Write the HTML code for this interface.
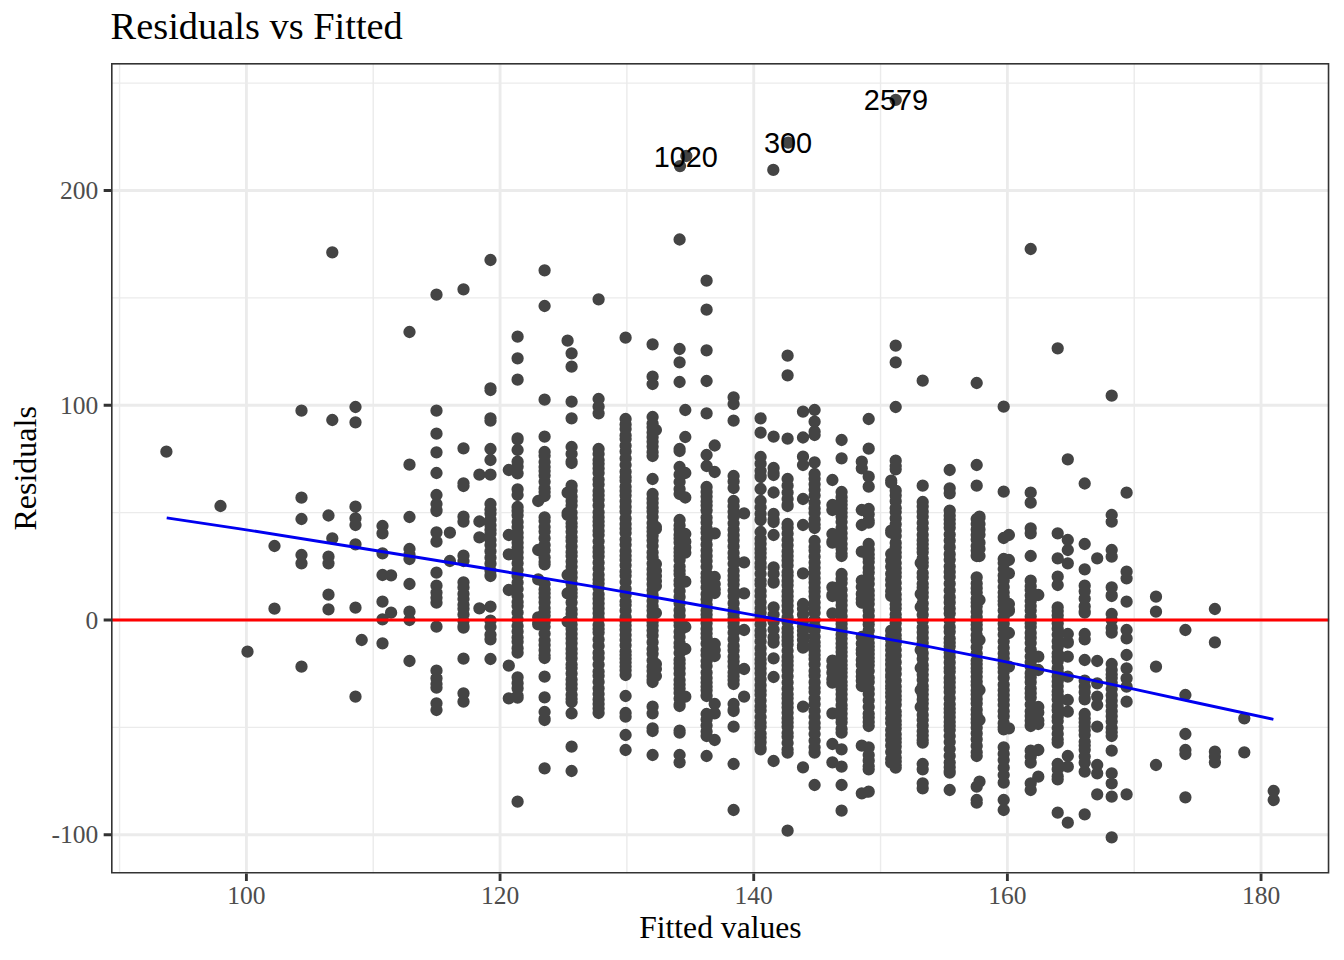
<!DOCTYPE html>
<html><head><meta charset="utf-8"><title>Residuals vs Fitted</title>
<style>html,body{margin:0;padding:0;background:#fff}svg{display:block}text{font-family:"Liberation Serif",serif}.s{font-family:"Liberation Sans",sans-serif}</style></head><body>
<svg width="1344" height="960" viewBox="0 0 1344 960">
<rect width="1344" height="960" fill="#fff"/>
<defs><clipPath id="c"><rect x="111.0" y="63.0" width="1218.33" height="810.6"/></clipPath></defs>
<g clip-path="url(#c)">
<path d="M119.57 63.0V873.6M373.23 63.0V873.6M626.89 63.0V873.6M880.55 63.0V873.6M1134.21 63.0V873.6M111.0 727.38H1329.33M111.0 512.62H1329.33M111.0 297.88H1329.33M111.0 83.12H1329.33" stroke="#ebebeb" stroke-width="1.42" fill="none"/>
<path d="M246.40 63.0V873.6M500.06 63.0V873.6M753.72 63.0V873.6M1007.38 63.0V873.6M1261.04 63.0V873.6M111.0 834.75H1329.33M111.0 620.00H1329.33M111.0 405.25H1329.33M111.0 190.50H1329.33" stroke="#ebebeb" stroke-width="2.85" fill="none"/>
<path d="M166.4 451.7h0M220.5 506.0h0M247.5 651.7h0M274.5 546.0h0M274.5 608.7h0M301.5 410.7h0M301.5 497.7h0M301.5 519.0h0M301.5 555.0h0M301.5 563.3h0M301.5 666.7h0M328.5 515.5h0M328.5 556.7h0M328.5 563.3h0M328.5 594.7h0M328.5 609.3h0M355.5 407.0h0M355.5 422.3h0M355.5 506.7h0M355.5 518.3h0M355.5 525.0h0M355.5 544.3h0M355.5 607.7h0M355.5 696.7h0M382.5 526.0h0M382.5 533.3h0M382.5 553.3h0M382.5 575.0h0M382.5 601.7h0M382.5 619.3h0M382.5 643.3h0M409.5 332.0h0M409.5 464.7h0M409.5 517.0h0M409.5 584.0h0M409.5 611.7h0M409.5 620.0h0M409.5 661.0h0M409.5 549.0h0M409.5 554.7h0M409.5 559.0h0M436.5 294.7h0M436.5 410.7h0M436.5 433.7h0M436.5 452.3h0M436.5 473.0h0M436.5 495.0h0M436.5 532.3h0M436.5 541.7h0M436.5 572.7h0M436.5 626.7h0M436.5 703.3h0M436.5 710.0h0M436.5 504.0h0M436.5 510.1h0M436.5 511.0h0M436.5 585.7h0M436.5 592.6h0M436.5 597.8h0M436.5 602.7h0M436.5 670.7h0M436.5 678.2h0M436.5 684.0h0M436.5 687.7h0M463.5 289.3h0M463.5 448.3h0M463.5 483.3h0M463.5 486.0h0M463.5 516.7h0M463.5 521.7h0M463.5 658.7h0M463.5 693.3h0M463.5 701.7h0M463.5 555.7h0M463.5 561.0h0M463.5 582.3h0M463.5 587.4h0M463.5 593.9h0M463.5 599.0h0M463.5 604.8h0M463.5 608.8h0M463.5 614.5h0M463.5 621.1h0M463.5 626.4h0M463.5 627.7h0M490.5 260.0h0M490.5 388.3h0M490.5 390.0h0M490.5 418.3h0M490.5 420.7h0M490.5 449.0h0M490.5 460.0h0M490.5 474.7h0M490.5 606.7h0M490.5 659.0h0M490.5 504.0h0M490.5 509.8h0M490.5 513.6h0M490.5 519.7h0M490.5 525.3h0M490.5 529.9h0M490.5 533.5h0M490.5 540.0h0M490.5 545.1h0M490.5 551.2h0M490.5 557.7h0M490.5 563.7h0M490.5 570.5h0M490.5 575.3h0M490.5 576.0h0M490.5 620.7h0M490.5 627.0h0M490.5 634.8h0M490.5 639.3h0M517.6 336.7h0M517.6 358.3h0M517.6 379.7h0M517.6 450.0h0M517.6 461.7h0M517.6 466.7h0M517.6 473.3h0M517.6 489.3h0M517.6 495.0h0M517.6 801.7h0M517.6 438.3h0M517.6 439.3h0M517.6 507.0h0M517.6 511.0h0M517.6 515.2h0M517.6 522.1h0M517.6 527.1h0M517.6 532.8h0M517.6 537.4h0M517.6 542.7h0M517.6 547.5h0M517.6 552.2h0M517.6 557.8h0M517.6 563.3h0M517.6 570.0h0M517.6 575.9h0M517.6 582.6h0M517.6 589.1h0M517.6 596.1h0M517.6 602.0h0M517.6 606.0h0M517.6 612.5h0M517.6 619.4h0M517.6 626.1h0M517.6 631.6h0M517.6 637.6h0M517.6 641.8h0M517.6 648.2h0M517.6 652.7h0M517.6 677.3h0M517.6 683.2h0M517.6 688.3h0M517.6 695.9h0M517.6 697.7h0M544.6 270.3h0M544.6 306.0h0M544.6 399.7h0M544.6 436.7h0M544.6 676.7h0M544.6 697.3h0M544.6 768.3h0M544.6 452.0h0M544.6 455.8h0M544.6 462.1h0M544.6 467.0h0M544.6 471.1h0M544.6 475.6h0M544.6 481.8h0M544.6 488.4h0M544.6 492.0h0M544.6 496.0h0M544.6 517.3h0M544.6 521.0h0M544.6 527.0h0M544.6 531.6h0M544.6 538.2h0M544.6 545.1h0M544.6 550.4h0M544.6 557.4h0M544.6 562.0h0M544.6 564.3h0M544.6 584.0h0M544.6 589.6h0M544.6 593.2h0M544.6 597.4h0M544.6 602.3h0M544.6 608.0h0M544.6 612.0h0M544.6 615.7h0M544.6 622.2h0M544.6 626.8h0M544.6 633.7h0M544.6 640.3h0M544.6 645.1h0M544.6 650.2h0M544.6 655.5h0M544.6 658.0h0M544.6 712.0h0M544.6 718.8h0M544.6 720.0h0M571.6 353.3h0M571.6 366.7h0M571.6 401.7h0M571.6 418.3h0M571.6 713.3h0M571.6 746.7h0M571.6 771.0h0M571.6 447.0h0M571.6 453.9h0M571.6 461.7h0M571.6 463.0h0M571.6 485.7h0M571.6 490.7h0M571.6 496.7h0M571.6 501.1h0M571.6 505.6h0M571.6 512.5h0M571.6 517.9h0M571.6 523.3h0M571.6 526.8h0M571.6 531.8h0M571.6 537.3h0M571.6 540.9h0M571.6 546.5h0M571.6 552.2h0M571.6 556.0h0M571.6 561.6h0M571.6 566.8h0M571.6 572.7h0M571.6 577.4h0M571.6 583.4h0M571.6 589.4h0M571.6 593.0h0M571.6 596.7h0M571.6 602.6h0M571.6 609.5h0M571.6 613.9h0M571.6 619.0h0M571.6 624.5h0M571.6 629.1h0M571.6 633.9h0M571.6 638.5h0M571.6 643.3h0M571.6 648.9h0M571.6 653.4h0M571.6 658.3h0M571.6 664.5h0M571.6 668.1h0M571.6 673.6h0M571.6 679.6h0M571.6 684.2h0M571.6 688.5h0M571.6 694.8h0M571.6 699.1h0M571.6 702.0h0M598.6 299.3h0M598.6 399.0h0M598.6 406.7h0M598.6 413.3h0M598.6 449.0h0M598.6 454.0h0M598.6 460.0h0M598.6 463.8h0M598.6 468.4h0M598.6 473.1h0M598.6 479.5h0M598.6 484.6h0M598.6 491.1h0M598.6 495.2h0M598.6 499.8h0M598.6 505.6h0M598.6 512.2h0M598.6 517.3h0M598.6 521.6h0M598.6 525.5h0M598.6 530.9h0M598.6 535.0h0M598.6 541.3h0M598.6 547.8h0M598.6 551.9h0M598.6 556.4h0M598.6 562.7h0M598.6 568.5h0M598.6 574.8h0M598.6 579.5h0M598.6 583.5h0M598.6 588.0h0M598.6 594.3h0M598.6 598.7h0M598.6 603.4h0M598.6 608.4h0M598.6 613.3h0M598.6 618.3h0M598.6 625.0h0M598.6 629.0h0M598.6 632.6h0M598.6 639.4h0M598.6 645.9h0M598.6 652.9h0M598.6 657.9h0M598.6 664.7h0M598.6 671.5h0M598.6 675.8h0M598.6 681.9h0M598.6 688.3h0M598.6 694.1h0M598.6 699.4h0M598.6 704.0h0M598.6 708.6h0M598.6 712.9h0M598.6 713.0h0M625.6 337.7h0M625.6 696.0h0M625.6 713.0h0M625.6 716.7h0M625.6 735.0h0M625.6 750.0h0M625.6 419.0h0M625.6 424.6h0M625.6 429.1h0M625.6 435.4h0M625.6 439.1h0M625.6 445.7h0M625.6 451.6h0M625.6 458.4h0M625.6 465.0h0M625.6 471.7h0M625.6 477.2h0M625.6 480.7h0M625.6 486.8h0M625.6 490.9h0M625.6 495.5h0M625.6 501.3h0M625.6 506.7h0M625.6 511.6h0M625.6 518.4h0M625.6 524.0h0M625.6 528.7h0M625.6 533.1h0M625.6 539.6h0M625.6 544.8h0M625.6 551.0h0M625.6 555.8h0M625.6 560.0h0M625.6 565.3h0M625.6 571.7h0M625.6 575.8h0M625.6 582.1h0M625.6 588.8h0M625.6 595.1h0M625.6 601.5h0M625.6 605.0h0M625.6 610.7h0M625.6 617.2h0M625.6 620.9h0M625.6 625.4h0M625.6 629.8h0M625.6 635.1h0M625.6 640.1h0M625.6 645.3h0M625.6 651.5h0M625.6 655.0h0M625.6 658.7h0M625.6 662.6h0M625.6 666.6h0M625.6 670.3h0M625.6 675.0h0M652.6 344.3h0M652.6 376.7h0M652.6 384.0h0M652.6 479.0h0M652.6 706.7h0M652.6 713.3h0M652.6 728.3h0M652.6 731.0h0M652.6 755.0h0M652.6 417.0h0M652.6 423.5h0M652.6 427.3h0M652.6 432.5h0M652.6 437.2h0M652.6 441.8h0M652.6 446.5h0M652.6 452.2h0M652.6 456.0h0M652.6 494.0h0M652.6 498.8h0M652.6 502.9h0M652.6 507.6h0M652.6 511.5h0M652.6 517.0h0M652.6 523.0h0M652.6 527.8h0M652.6 531.6h0M652.6 535.7h0M652.6 540.5h0M652.6 546.1h0M652.6 552.4h0M652.6 557.2h0M652.6 563.5h0M652.6 569.2h0M652.6 574.2h0M652.6 579.0h0M652.6 584.2h0M652.6 590.2h0M652.6 595.2h0M652.6 601.1h0M652.6 606.2h0M652.6 610.6h0M652.6 615.9h0M652.6 621.9h0M652.6 625.6h0M652.6 630.6h0M652.6 635.6h0M652.6 642.2h0M652.6 649.0h0M652.6 653.8h0M652.6 660.4h0M652.6 666.7h0M652.6 671.1h0M652.6 676.2h0M652.6 680.1h0M652.6 682.0h0M679.6 239.5h0M679.6 349.0h0M679.6 362.3h0M679.6 382.0h0M679.6 755.0h0M679.6 762.3h0M679.6 449.0h0M679.6 451.0h0M679.6 467.0h0M679.6 474.7h0M679.6 482.0h0M679.6 489.0h0M679.6 494.0h0M679.6 520.0h0M679.6 525.5h0M679.6 529.3h0M679.6 534.9h0M679.6 538.4h0M679.6 542.4h0M679.6 548.6h0M679.6 552.3h0M679.6 556.1h0M679.6 559.9h0M679.6 566.5h0M679.6 570.7h0M679.6 574.2h0M679.6 580.7h0M679.6 584.6h0M679.6 591.1h0M679.6 596.9h0M679.6 603.3h0M679.6 610.2h0M679.6 615.7h0M679.6 622.0h0M679.6 625.6h0M679.6 631.8h0M679.6 637.1h0M679.6 643.1h0M679.6 647.0h0M679.6 653.1h0M679.6 659.9h0M679.6 663.6h0M679.6 668.2h0M679.6 673.7h0M679.6 680.1h0M679.6 684.4h0M679.6 688.6h0M679.6 692.9h0M679.6 698.6h0M679.6 704.7h0M679.6 706.0h0M679.6 730.7h0M679.6 732.7h0M706.6 280.7h0M706.6 309.7h0M706.6 350.3h0M706.6 381.0h0M706.6 413.3h0M706.6 455.0h0M706.6 466.0h0M706.6 756.0h0M706.6 487.0h0M706.6 491.9h0M706.6 496.6h0M706.6 501.6h0M706.6 505.4h0M706.6 510.6h0M706.6 517.5h0M706.6 522.5h0M706.6 528.6h0M706.6 532.6h0M706.6 538.6h0M706.6 544.7h0M706.6 550.6h0M706.6 555.9h0M706.6 561.1h0M706.6 566.8h0M706.6 573.5h0M706.6 577.5h0M706.6 581.3h0M706.6 587.4h0M706.6 594.2h0M706.6 599.5h0M706.6 604.5h0M706.6 610.5h0M706.6 614.7h0M706.6 619.1h0M706.6 623.3h0M706.6 628.9h0M706.6 633.5h0M706.6 637.8h0M706.6 643.7h0M706.6 650.5h0M706.6 655.1h0M706.6 661.0h0M706.6 666.0h0M706.6 672.5h0M706.6 678.0h0M706.6 682.5h0M706.6 686.7h0M706.6 690.3h0M706.6 695.5h0M706.6 696.0h0M706.6 714.0h0M706.6 719.5h0M706.6 725.6h0M706.6 731.6h0M706.6 736.0h0M733.6 397.3h0M733.6 404.0h0M733.6 420.7h0M733.6 726.7h0M733.6 764.0h0M733.6 810.0h0M733.6 476.0h0M733.6 481.4h0M733.6 488.0h0M733.6 501.0h0M733.6 506.2h0M733.6 511.8h0M733.6 516.9h0M733.6 523.3h0M733.6 529.7h0M733.6 535.2h0M733.6 540.3h0M733.6 546.4h0M733.6 552.9h0M733.6 557.8h0M733.6 563.8h0M733.6 570.7h0M733.6 575.8h0M733.6 580.1h0M733.6 584.5h0M733.6 590.5h0M733.6 596.3h0M733.6 603.2h0M733.6 609.7h0M733.6 614.0h0M733.6 618.2h0M733.6 622.6h0M733.6 626.7h0M733.6 632.7h0M733.6 639.2h0M733.6 645.9h0M733.6 650.3h0M733.6 656.8h0M733.6 661.4h0M733.6 666.4h0M733.6 672.4h0M733.6 676.2h0M733.6 680.0h0M733.6 684.0h0M733.6 704.0h0M733.6 709.9h0M733.6 711.0h0M760.6 418.3h0M760.6 432.7h0M760.6 489.0h0M760.6 457.0h0M760.6 463.7h0M760.6 470.8h0M760.6 475.8h0M760.6 477.0h0M760.6 501.0h0M760.6 507.3h0M760.6 513.8h0M760.6 519.4h0M760.6 520.0h0M760.6 532.0h0M760.6 538.8h0M760.6 543.7h0M760.6 549.1h0M760.6 553.0h0M760.6 557.5h0M760.6 563.3h0M760.6 567.2h0M760.6 573.8h0M760.6 580.5h0M760.6 584.3h0M760.6 591.1h0M760.6 595.9h0M760.6 602.2h0M760.6 608.3h0M760.6 612.8h0M760.6 618.7h0M760.6 624.5h0M760.6 630.8h0M760.6 635.2h0M760.6 641.4h0M760.6 648.2h0M760.6 654.1h0M760.6 659.5h0M760.6 663.4h0M760.6 668.6h0M760.6 673.3h0M760.6 679.3h0M760.6 685.2h0M760.6 690.7h0M760.6 694.8h0M760.6 700.6h0M760.6 706.3h0M760.6 710.4h0M760.6 717.1h0M760.6 722.8h0M760.6 726.8h0M760.6 733.5h0M760.6 737.5h0M760.6 742.2h0M760.6 748.2h0M760.6 749.3h0M787.6 355.7h0M787.6 375.3h0M787.6 438.7h0M787.6 830.7h0M787.6 479.0h0M787.6 485.7h0M787.6 492.6h0M787.6 499.0h0M787.6 504.9h0M787.6 506.0h0M787.6 524.0h0M787.6 527.7h0M787.6 533.7h0M787.6 539.9h0M787.6 545.3h0M787.6 551.4h0M787.6 556.1h0M787.6 560.6h0M787.6 565.4h0M787.6 572.0h0M787.6 575.6h0M787.6 580.9h0M787.6 585.2h0M787.6 591.4h0M787.6 596.2h0M787.6 600.8h0M787.6 605.7h0M787.6 611.1h0M787.6 617.3h0M787.6 622.1h0M787.6 628.5h0M787.6 632.4h0M787.6 636.9h0M787.6 640.7h0M787.6 644.6h0M787.6 650.8h0M787.6 656.9h0M787.6 661.0h0M787.6 665.2h0M787.6 670.2h0M787.6 676.3h0M787.6 682.6h0M787.6 688.7h0M787.6 694.3h0M787.6 698.3h0M787.6 703.2h0M787.6 707.4h0M787.6 712.7h0M787.6 718.2h0M787.6 722.4h0M787.6 726.8h0M787.6 733.1h0M787.6 736.7h0M787.6 743.0h0M787.6 749.6h0M787.6 752.7h0M814.6 410.0h0M814.6 421.7h0M814.6 431.7h0M814.6 435.0h0M814.6 462.3h0M814.6 785.0h0M814.6 474.0h0M814.6 478.8h0M814.6 484.3h0M814.6 489.8h0M814.6 495.5h0M814.6 502.5h0M814.6 508.4h0M814.6 512.9h0M814.6 519.4h0M814.6 524.6h0M814.6 528.0h0M814.6 541.0h0M814.6 547.0h0M814.6 550.6h0M814.6 556.7h0M814.6 562.6h0M814.6 567.8h0M814.6 573.1h0M814.6 578.2h0M814.6 582.4h0M814.6 587.8h0M814.6 591.4h0M814.6 596.6h0M814.6 602.4h0M814.6 607.5h0M814.6 612.9h0M814.6 619.8h0M814.6 626.4h0M814.6 630.4h0M814.6 636.7h0M814.6 642.3h0M814.6 646.0h0M814.6 650.8h0M814.6 655.1h0M814.6 658.9h0M814.6 664.3h0M814.6 671.0h0M814.6 675.6h0M814.6 682.2h0M814.6 688.1h0M814.6 692.1h0M814.6 698.6h0M814.6 704.2h0M814.6 710.9h0M814.6 717.0h0M814.6 723.0h0M814.6 727.7h0M814.6 734.1h0M814.6 740.8h0M814.6 747.3h0M814.6 752.4h0M814.6 752.7h0M841.6 440.0h0M841.6 458.3h0M841.6 749.3h0M841.6 766.7h0M841.6 785.0h0M841.6 810.7h0M841.6 492.0h0M841.6 497.2h0M841.6 501.1h0M841.6 504.7h0M841.6 508.5h0M841.6 512.7h0M841.6 516.8h0M841.6 522.0h0M841.6 528.0h0M841.6 533.3h0M841.6 538.3h0M841.6 544.1h0M841.6 548.7h0M841.6 553.8h0M841.6 556.0h0M841.6 574.0h0M841.6 578.9h0M841.6 583.0h0M841.6 589.7h0M841.6 595.7h0M841.6 600.5h0M841.6 605.3h0M841.6 610.6h0M841.6 616.2h0M841.6 620.5h0M841.6 624.0h0M841.6 628.3h0M841.6 634.5h0M841.6 638.5h0M841.6 643.6h0M841.6 647.8h0M841.6 652.0h0M841.6 656.1h0M841.6 661.0h0M841.6 665.1h0M841.6 668.7h0M841.6 672.6h0M841.6 676.7h0M841.6 681.9h0M841.6 685.6h0M841.6 689.2h0M841.6 694.3h0M841.6 699.2h0M841.6 705.2h0M841.6 708.8h0M841.6 713.7h0M841.6 718.6h0M841.6 722.2h0M841.6 729.1h0M841.6 732.7h0M868.7 419.0h0M868.7 448.7h0M868.7 476.7h0M868.7 486.7h0M868.7 791.7h0M868.7 509.0h0M868.7 514.3h0M868.7 520.7h0M868.7 522.7h0M868.7 544.0h0M868.7 549.7h0M868.7 554.4h0M868.7 558.3h0M868.7 562.0h0M868.7 568.1h0M868.7 572.5h0M868.7 578.8h0M868.7 583.9h0M868.7 590.7h0M868.7 595.2h0M868.7 599.6h0M868.7 604.0h0M868.7 610.4h0M868.7 616.1h0M868.7 620.8h0M868.7 624.6h0M868.7 630.5h0M868.7 637.4h0M868.7 643.0h0M868.7 646.5h0M868.7 650.1h0M868.7 653.9h0M868.7 658.0h0M868.7 661.6h0M868.7 665.3h0M868.7 671.1h0M868.7 677.8h0M868.7 682.0h0M868.7 688.9h0M868.7 694.0h0M868.7 700.3h0M868.7 707.1h0M868.7 713.8h0M868.7 717.5h0M868.7 722.0h0M868.7 726.0h0M868.7 747.3h0M868.7 755.1h0M868.7 760.4h0M868.7 766.3h0M868.7 769.3h0M895.7 345.7h0M895.7 362.3h0M895.7 407.0h0M895.7 460.7h0M895.7 466.0h0M895.7 469.3h0M895.7 490.7h0M895.7 495.4h0M895.7 501.2h0M895.7 508.0h0M895.7 512.1h0M895.7 518.2h0M895.7 524.3h0M895.7 530.7h0M895.7 536.1h0M895.7 542.9h0M895.7 547.6h0M895.7 552.6h0M895.7 556.9h0M895.7 563.1h0M895.7 568.3h0M895.7 572.7h0M895.7 576.8h0M895.7 582.9h0M895.7 588.5h0M895.7 594.5h0M895.7 599.3h0M895.7 604.5h0M895.7 608.6h0M895.7 614.5h0M895.7 618.1h0M895.7 623.3h0M895.7 629.4h0M895.7 635.3h0M895.7 639.1h0M895.7 643.5h0M895.7 649.9h0M895.7 655.7h0M895.7 662.2h0M895.7 668.8h0M895.7 673.9h0M895.7 680.5h0M895.7 686.6h0M895.7 691.2h0M895.7 696.0h0M895.7 699.8h0M895.7 704.7h0M895.7 711.5h0M895.7 715.4h0M895.7 720.9h0M895.7 724.8h0M895.7 728.6h0M895.7 734.3h0M895.7 738.7h0M895.7 742.3h0M895.7 746.4h0M895.7 752.1h0M895.7 757.7h0M895.7 761.2h0M895.7 765.5h0M895.7 767.7h0M922.7 380.7h0M922.7 485.7h0M922.7 783.3h0M922.7 788.3h0M922.7 502.0h0M922.7 506.3h0M922.7 511.7h0M922.7 516.7h0M922.7 522.9h0M922.7 528.6h0M922.7 534.8h0M922.7 540.2h0M922.7 544.3h0M922.7 548.5h0M922.7 552.2h0M922.7 558.6h0M922.7 562.5h0M922.7 566.1h0M922.7 573.0h0M922.7 577.2h0M922.7 583.8h0M922.7 587.6h0M922.7 592.7h0M922.7 597.0h0M922.7 603.4h0M922.7 609.1h0M922.7 614.8h0M922.7 621.0h0M922.7 627.5h0M922.7 632.3h0M922.7 637.9h0M922.7 642.9h0M922.7 646.8h0M922.7 653.2h0M922.7 658.8h0M922.7 665.2h0M922.7 669.4h0M922.7 674.8h0M922.7 679.9h0M922.7 686.0h0M922.7 689.7h0M922.7 694.4h0M922.7 699.6h0M922.7 703.4h0M922.7 708.8h0M922.7 714.9h0M922.7 719.9h0M922.7 725.6h0M922.7 731.3h0M922.7 735.5h0M922.7 740.2h0M922.7 742.7h0M922.7 764.0h0M922.7 769.3h0M949.7 470.0h0M949.7 488.3h0M949.7 493.3h0M949.7 790.0h0M949.7 510.7h0M949.7 515.7h0M949.7 519.5h0M949.7 523.8h0M949.7 527.8h0M949.7 534.6h0M949.7 540.6h0M949.7 547.2h0M949.7 554.2h0M949.7 559.8h0M949.7 566.6h0M949.7 571.9h0M949.7 576.9h0M949.7 583.7h0M949.7 590.4h0M949.7 597.2h0M949.7 602.4h0M949.7 608.6h0M949.7 613.5h0M949.7 620.5h0M949.7 627.2h0M949.7 631.8h0M949.7 638.5h0M949.7 642.7h0M949.7 646.5h0M949.7 652.5h0M949.7 657.1h0M949.7 662.4h0M949.7 668.1h0M949.7 671.8h0M949.7 677.9h0M949.7 682.3h0M949.7 687.4h0M949.7 692.1h0M949.7 698.2h0M949.7 704.3h0M949.7 708.8h0M949.7 712.6h0M949.7 717.2h0M949.7 722.1h0M949.7 725.9h0M949.7 729.9h0M949.7 736.1h0M949.7 742.1h0M949.7 749.0h0M949.7 755.9h0M949.7 762.5h0M949.7 767.3h0M949.7 771.3h0M949.7 772.7h0M976.7 383.0h0M976.7 465.0h0M976.7 485.7h0M976.7 786.7h0M976.7 800.0h0M976.7 802.7h0M976.7 519.0h0M976.7 524.1h0M976.7 529.5h0M976.7 534.9h0M976.7 539.6h0M976.7 546.1h0M976.7 550.6h0M976.7 555.7h0M976.7 556.0h0M976.7 577.3h0M976.7 583.6h0M976.7 588.2h0M976.7 592.5h0M976.7 598.8h0M976.7 602.4h0M976.7 606.3h0M976.7 611.7h0M976.7 617.1h0M976.7 621.1h0M976.7 624.8h0M976.7 629.0h0M976.7 635.2h0M976.7 640.4h0M976.7 647.3h0M976.7 653.5h0M976.7 660.5h0M976.7 664.1h0M976.7 668.2h0M976.7 671.8h0M976.7 676.8h0M976.7 681.5h0M976.7 685.2h0M976.7 690.6h0M976.7 694.4h0M976.7 699.0h0M976.7 703.4h0M976.7 709.7h0M976.7 714.6h0M976.7 719.0h0M976.7 722.7h0M976.7 727.7h0M976.7 733.4h0M976.7 739.3h0M976.7 745.9h0M976.7 752.3h0M976.7 756.0h0M1003.7 406.7h0M1003.7 491.7h0M1003.7 538.0h0M1003.7 800.0h0M1003.7 810.0h0M1003.7 559.0h0M1003.7 563.0h0M1003.7 569.1h0M1003.7 575.4h0M1003.7 580.7h0M1003.7 587.1h0M1003.7 592.5h0M1003.7 597.0h0M1003.7 601.1h0M1003.7 604.6h0M1003.7 610.4h0M1003.7 617.0h0M1003.7 623.7h0M1003.7 628.8h0M1003.7 634.7h0M1003.7 641.4h0M1003.7 647.8h0M1003.7 653.4h0M1003.7 658.3h0M1003.7 663.6h0M1003.7 667.7h0M1003.7 671.9h0M1003.7 677.8h0M1003.7 684.7h0M1003.7 690.2h0M1003.7 695.1h0M1003.7 699.8h0M1003.7 704.9h0M1003.7 711.2h0M1003.7 716.3h0M1003.7 723.2h0M1003.7 727.2h0M1003.7 729.3h0M1003.7 747.3h0M1003.7 753.9h0M1003.7 760.1h0M1003.7 767.7h0M1003.7 775.1h0M1003.7 782.7h0M1030.7 249.0h0M1030.7 492.7h0M1030.7 502.7h0M1030.7 528.3h0M1030.7 533.3h0M1030.7 556.0h0M1030.7 783.3h0M1030.7 790.0h0M1030.7 580.7h0M1030.7 586.3h0M1030.7 590.0h0M1030.7 595.5h0M1030.7 600.9h0M1030.7 606.1h0M1030.7 610.6h0M1030.7 616.6h0M1030.7 623.2h0M1030.7 627.1h0M1030.7 632.9h0M1030.7 637.7h0M1030.7 643.0h0M1030.7 649.7h0M1030.7 656.5h0M1030.7 662.3h0M1030.7 666.5h0M1030.7 673.2h0M1030.7 677.3h0M1030.7 682.2h0M1030.7 688.6h0M1030.7 693.2h0M1030.7 697.6h0M1030.7 704.5h0M1030.7 711.3h0M1030.7 715.9h0M1030.7 720.7h0M1030.7 725.2h0M1030.7 726.0h0M1030.7 750.7h0M1030.7 756.5h0M1030.7 762.7h0M1057.7 348.3h0M1057.7 533.3h0M1057.7 558.3h0M1057.7 576.7h0M1057.7 585.0h0M1057.7 812.7h0M1057.7 607.3h0M1057.7 611.1h0M1057.7 615.4h0M1057.7 619.6h0M1057.7 623.4h0M1057.7 628.7h0M1057.7 634.8h0M1057.7 641.2h0M1057.7 646.9h0M1057.7 653.3h0M1057.7 656.8h0M1057.7 661.3h0M1057.7 668.2h0M1057.7 671.9h0M1057.7 676.4h0M1057.7 681.5h0M1057.7 686.0h0M1057.7 691.4h0M1057.7 695.1h0M1057.7 699.4h0M1057.7 706.2h0M1057.7 710.2h0M1057.7 716.9h0M1057.7 721.0h0M1057.7 728.0h0M1057.7 733.9h0M1057.7 739.6h0M1057.7 742.7h0M1057.7 764.0h0M1057.7 769.2h0M1057.7 776.4h0M1057.7 779.3h0M1084.7 483.5h0M1084.7 544.0h0M1084.7 569.3h0M1084.7 660.0h0M1084.7 771.7h0M1084.7 814.3h0M1084.7 585.7h0M1084.7 591.3h0M1084.7 598.7h0M1084.7 606.4h0M1084.7 611.5h0M1084.7 612.7h0M1084.7 634.0h0M1084.7 639.3h0M1084.7 680.7h0M1084.7 686.8h0M1084.7 692.2h0M1084.7 698.3h0M1084.7 699.3h0M1084.7 714.0h0M1084.7 718.5h0M1084.7 722.4h0M1084.7 726.5h0M1084.7 730.4h0M1084.7 735.1h0M1084.7 741.8h0M1084.7 745.6h0M1084.7 749.8h0M1084.7 756.6h0M1084.7 762.7h0M1111.7 395.7h0M1111.7 515.0h0M1111.7 521.7h0M1111.7 550.0h0M1111.7 556.7h0M1111.7 750.7h0M1111.7 773.3h0M1111.7 783.3h0M1111.7 796.7h0M1111.7 837.3h0M1111.7 587.3h0M1111.7 595.2h0M1111.7 596.0h0M1111.7 614.0h0M1111.7 620.1h0M1111.7 627.9h0M1111.7 632.7h0M1111.7 664.0h0M1111.7 670.0h0M1111.7 674.6h0M1111.7 678.1h0M1111.7 682.8h0M1111.7 689.0h0M1111.7 695.2h0M1111.7 700.7h0M1111.7 705.8h0M1111.7 711.2h0M1111.7 716.2h0M1111.7 721.6h0M1111.7 728.0h0M1111.7 732.2h0M1111.7 736.0h0M1273.7 791.0h0M1273.7 800.0h0M1244.3 718.3h0M1244.3 752.3h0M1214.9 609.0h0M1214.9 642.3h0M1214.9 751.7h0M1214.9 756.7h0M1214.9 762.3h0M1185.4 630.0h0M1185.4 695.0h0M1185.4 734.0h0M1185.4 750.0h0M1185.4 754.0h0M1185.4 797.3h0M1156.0 596.7h0M1156.0 611.7h0M1156.0 666.7h0M1156.0 765.0h0M1126.6 492.7h0M1126.6 571.7h0M1126.6 578.3h0M1126.6 601.7h0M1126.6 630.0h0M1126.6 638.3h0M1126.6 655.0h0M1126.6 668.3h0M1126.6 678.3h0M1126.6 686.7h0M1126.6 701.7h0M1126.6 794.3h0M1097.2 558.3h0M1097.2 661.0h0M1097.2 683.3h0M1097.2 696.7h0M1097.2 705.0h0M1097.2 726.7h0M1097.2 765.0h0M1097.2 773.3h0M1097.2 794.3h0M1067.8 459.3h0M1067.8 540.0h0M1067.8 550.0h0M1067.8 563.3h0M1067.8 656.7h0M1067.8 676.7h0M1067.8 700.0h0M1067.8 711.7h0M1067.8 756.0h0M1067.8 766.7h0M1067.8 822.7h0M1067.8 634.0h0M1067.8 641.8h0M1067.8 642.7h0M1038.3 595.0h0M1038.3 656.7h0M1038.3 670.0h0M1038.3 750.0h0M1038.3 776.7h0M1038.3 707.0h0M1038.3 712.5h0M1038.3 720.4h0M1038.3 724.0h0M1008.9 535.0h0M1008.9 560.0h0M1008.9 573.3h0M1008.9 633.0h0M1008.9 666.7h0M1008.9 728.3h0M1008.9 604.0h0M1008.9 609.5h0M1008.9 611.0h0M979.5 516.7h0M979.5 518.0h0M979.5 600.0h0M979.5 640.0h0M979.5 690.0h0M979.5 720.0h0M979.5 781.7h0M979.5 524.0h0M979.5 529.6h0M979.5 534.8h0M979.5 542.7h0M979.5 548.9h0M979.5 556.0h0M920.7 563.0h0M920.7 594.0h0M920.7 607.0h0M920.7 650.0h0M920.7 668.0h0M920.7 690.0h0M920.7 707.0h0M891.2 480.7h0M891.2 482.7h0M891.2 530.7h0M891.2 532.7h0M891.2 554.0h0M891.2 560.5h0M891.2 566.8h0M891.2 573.8h0M891.2 579.7h0M891.2 585.0h0M891.2 591.2h0M891.2 595.0h0M891.2 596.0h0M891.2 630.7h0M891.2 635.7h0M891.2 639.8h0M891.2 645.4h0M891.2 650.0h0M891.2 655.3h0M891.2 660.1h0M891.2 664.7h0M891.2 669.4h0M891.2 675.0h0M891.2 682.0h0M891.2 686.0h0M891.2 664.0h0M891.2 670.5h0M891.2 676.9h0M891.2 681.4h0M891.2 688.4h0M891.2 692.8h0M891.2 696.7h0M891.2 702.0h0M891.2 708.1h0M891.2 712.7h0M891.2 718.5h0M891.2 723.0h0M891.2 729.9h0M891.2 735.0h0M891.2 740.1h0M891.2 745.5h0M891.2 752.1h0M891.2 759.0h0M891.2 762.7h0M861.8 461.7h0M861.8 468.3h0M861.8 510.0h0M861.8 525.0h0M861.8 551.7h0M861.8 745.7h0M861.8 793.3h0M861.8 580.7h0M861.8 587.0h0M861.8 593.9h0M861.8 599.1h0M861.8 602.7h0M861.8 637.0h0M861.8 643.5h0M861.8 649.7h0M861.8 653.4h0M861.8 659.9h0M861.8 664.7h0M861.8 671.7h0M861.8 676.4h0M861.8 680.7h0M861.8 686.0h0M832.4 480.0h0M832.4 505.0h0M832.4 510.0h0M832.4 613.3h0M832.4 713.3h0M832.4 744.0h0M832.4 762.3h0M832.4 534.0h0M832.4 541.7h0M832.4 542.7h0M832.4 587.3h0M832.4 594.9h0M832.4 596.0h0M832.4 660.7h0M832.4 666.8h0M832.4 672.7h0M832.4 679.2h0M832.4 682.7h0M803.0 411.7h0M803.0 437.5h0M803.0 456.7h0M803.0 465.0h0M803.0 499.0h0M803.0 525.0h0M803.0 573.3h0M803.0 706.7h0M803.0 767.3h0M803.0 604.0h0M803.0 608.8h0M803.0 614.6h0M803.0 621.1h0M803.0 626.7h0M803.0 630.7h0M803.0 635.0h0M803.0 639.8h0M803.0 645.4h0M803.0 647.7h0M773.6 436.7h0M773.6 492.5h0M773.6 535.0h0M773.6 658.3h0M773.6 677.0h0M773.6 761.0h0M773.6 468.0h0M773.6 473.2h0M773.6 475.0h0M773.6 514.0h0M773.6 519.8h0M773.6 522.0h0M773.6 567.3h0M773.6 573.9h0M773.6 581.7h0M773.6 582.7h0M773.6 607.3h0M773.6 614.5h0M773.6 622.0h0M773.6 629.5h0M773.6 637.2h0M773.6 642.7h0M744.1 513.3h0M744.1 562.3h0M744.1 593.3h0M744.1 630.0h0M744.1 669.0h0M744.1 696.7h0M714.7 445.5h0M714.7 472.0h0M714.7 533.3h0M714.7 704.0h0M714.7 713.3h0M714.7 740.0h0M714.7 577.0h0M714.7 584.0h0M714.7 589.4h0M714.7 593.0h0M714.7 644.0h0M714.7 650.1h0M714.7 656.0h0M685.3 410.0h0M685.3 437.0h0M685.3 473.0h0M685.3 497.5h0M685.3 581.7h0M685.3 627.0h0M685.3 649.0h0M685.3 696.7h0M685.3 534.0h0M685.3 541.7h0M685.3 547.5h0M685.3 552.7h0M655.9 430.0h0M655.9 613.0h0M655.9 527.0h0M655.9 529.0h0M655.9 564.0h0M655.9 570.8h0M655.9 576.1h0M655.9 581.1h0M655.9 586.0h0M655.9 664.0h0M655.9 669.0h0M655.9 676.0h0M567.6 340.7h0M567.6 492.7h0M567.6 513.0h0M567.6 515.0h0M567.6 575.0h0M567.6 593.3h0M567.6 621.7h0M538.2 501.0h0M538.2 550.0h0M538.2 579.3h0M538.2 617.3h0M538.2 622.9h0M538.2 624.3h0M508.8 470.0h0M508.8 535.0h0M508.8 554.3h0M508.8 590.0h0M508.8 665.7h0M508.8 698.3h0M479.4 474.7h0M479.4 521.5h0M479.4 537.3h0M479.4 608.3h0M449.9 532.7h0M449.9 561.0h0M391.1 575.3h0M391.1 612.7h0M361.7 640.0h0M332.3 252.3h0M332.3 420.0h0M332.3 538.3h0M680.0 166.1h0M686.3 156.0h0M773.3 169.9h0M788.2 142.6h0M895.7 99.9h0" stroke="#444" stroke-width="12.3" stroke-linecap="round" fill="none"/>
<path d="M111.0 620H1329.33" stroke="#ff0000" stroke-width="2.85" fill="none"/>
<polyline points="166.7,517.9 240,528.8 360,548 480,567.5 600,587.6 690,603.5 781,620 850,632.3 920,644.8 1000,660.6 1067,674.8 1134,689.2 1200,703.5 1273.4,719.3" stroke="#0000f0" stroke-width="2.85" fill="none"/>
<text class="s" x="896" y="110.2" font-size="28.9" text-anchor="middle" fill="#000">2579</text><text class="s" x="788" y="153.10000000000002" font-size="28.9" text-anchor="middle" fill="#000">300</text><text class="s" x="685.8" y="166.8" font-size="28.9" text-anchor="middle" fill="#000">1020</text>
<rect x="111.0" y="63.0" width="1218.33" height="810.6" fill="none" stroke="#333" stroke-width="3.2"/>
</g>
<path d="M246.40 873.6v7.33M500.06 873.6v7.33M753.72 873.6v7.33M1007.38 873.6v7.33M1261.04 873.6v7.33M111.0 834.75h-7.33M111.0 620.00h-7.33M111.0 405.25h-7.33M111.0 190.50h-7.33" stroke="#333" stroke-width="2.85" fill="none"/>
<text x="246.40" y="904" font-size="25.5" fill="#4d4d4d" text-anchor="middle">100</text>
<text x="500.06" y="904" font-size="25.5" fill="#4d4d4d" text-anchor="middle">120</text>
<text x="753.72" y="904" font-size="25.5" fill="#4d4d4d" text-anchor="middle">140</text>
<text x="1007.38" y="904" font-size="25.5" fill="#4d4d4d" text-anchor="middle">160</text>
<text x="1261.04" y="904" font-size="25.5" fill="#4d4d4d" text-anchor="middle">180</text>
<text x="98.2" y="843.35" font-size="25.5" fill="#4d4d4d" text-anchor="end">-100</text>
<text x="98.2" y="628.60" font-size="25.5" fill="#4d4d4d" text-anchor="end">0</text>
<text x="98.2" y="413.85" font-size="25.5" fill="#4d4d4d" text-anchor="end">100</text>
<text x="98.2" y="199.10" font-size="25.5" fill="#4d4d4d" text-anchor="end">200</text>
<text x="110.6" y="39.4" font-size="38.4" fill="#000">Residuals vs Fitted</text>
<text x="720.4" y="937.5" font-size="31.6" fill="#000" text-anchor="middle">Fitted values</text>
<text transform="translate(35.6 468.3) rotate(-90)" font-size="32" fill="#000" text-anchor="middle">Residuals</text>
</svg></body></html>
